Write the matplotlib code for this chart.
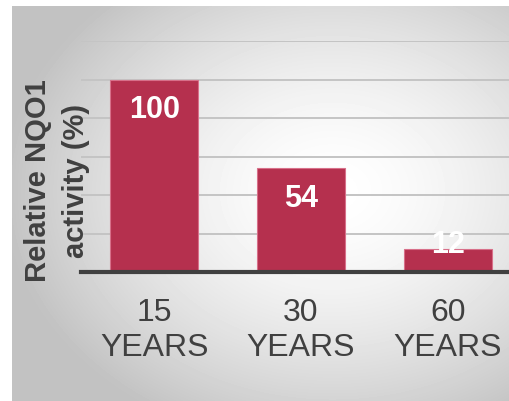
import matplotlib.pyplot as plt
import numpy as np

plt.rcParams["font.family"] = ["Liberation Sans", "DejaVu Sans"]

categories = ["15\nYEARS", "30\nYEARS", "60\nYEARS"]
activity = [100, 54, 12]
y_label = "Relative NQO1\nactivity (%)"

bar_color = "#b5304e"
text_color = "#404040"

fig = plt.figure(figsize=(5.09, 4.01), dpi=100)
fig.patch.set_facecolor("white")

# radial grey gradient panel behind the chart
bg = fig.add_axes([12 / 509, 0, 1 - 12 / 509, 395 / 401])
yy, xx = np.mgrid[0:395, 0:497]
cx, cy = 320, 185
r = np.hypot((xx - cx) / 330, (yy - cy) / 260)
shade = np.clip(1.0 - 0.24 * r ** 1.6, 0.76, 1.0)
bg.imshow(shade, cmap="gray", vmin=0, vmax=1, aspect="auto",
          interpolation="bilinear")
bg.set_axis_off()

ax = fig.add_axes([81 / 509, 129 / 401, 440 / 509, 231 / 401])
ax.patch.set_alpha(0)
x = np.arange(len(categories))
bars = ax.bar(x, activity, width=0.6, color=bar_color,
              edgecolor="#d8708a", linewidth=0.8, zorder=3)

ax.set_xlim(-0.5, 2.5)
ax.set_ylim(0, 120)
ax.set_yticks(np.arange(0, 121, 20))
ax.yaxis.grid(True, color="#c4c4c4", linewidth=1.4, zorder=0)
ax.set_yticklabels([])
ax.tick_params(axis="y", length=0)
ax.set_xticks(x)
ax.set_xticklabels(categories, fontsize=23, color=text_color,
                   linespacing=1.2)
ax.tick_params(axis="x", length=0, pad=19)
for side in ["top", "right", "left"]:
    ax.spines[side].set_visible(False)
ax.spines["bottom"].set_color(text_color)
ax.spines["bottom"].set_linewidth(3)
ax.spines["bottom"].set_zorder(4)

for b, v in zip(bars, activity):
    off = -31 if v > 25 else 4
    ax.annotate(str(v), (b.get_x() + b.get_width() / 2, v),
                xytext=(0, off), textcoords="offset pixels",
                ha="center", va="center", color="white",
                fontsize=22, fontweight="bold", zorder=5)

fig.text(57 / 509, 1 - 181 / 401, y_label, rotation=90, ha="center",
         va="center", fontsize=21, fontweight="bold", color=text_color,
         linespacing=1.42)

fig.savefig("out.png", dpi=100)
